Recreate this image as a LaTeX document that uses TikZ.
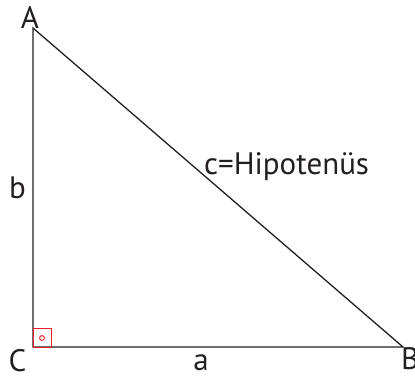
\documentclass[tikz,border=0pt]{standalone}
\usepackage{fontspec}
\setmainfont{PT Sans}
\usetikzlibrary{positioning}
\definecolor{cRight}{RGB}{235,30,45}
\definecolor{cLine}{RGB}{35,31,32}
\tikzset{
  side/.style={draw=cLine,line width=1.3pt},
  lbl/.style={anchor=base,font=\fontsize{31}{31}\selectfont,text=cLine,inner sep=0pt},
  rightmark/.style={draw=cRight,line width=1pt}
}

\begin{document}
\begin{tikzpicture}[x=1pt,y=-1pt]
  \useasboundingbox (0,0) rectangle (415,376);
  % vertices
  \coordinate (A) at (33,28);
  \coordinate (C) at (33,347);
  \coordinate (B) at (403,347);
  % triangle
  \draw[side] (A) -- (B) -- (C) -- cycle;
  % right angle
  \draw[rightmark] (33,328) rectangle (51,347);
  \draw[rightmark] (42,338) circle (2.4);
  % labels
  \node[lbl] (lA) at (30,28) {A};
  \node[lbl] (lC) at (17.5,371) {C};
  \node[lbl,anchor=base west] (lB) at (401,369) {B};
  \node[lbl] (lb) at (17.5,198) {b};
  \node[lbl] (la) at (201,370) {a};
  \node[lbl,anchor=base west] (lc) at (204,174) {c=Hipotenüs};
\end{tikzpicture}
\end{document}
